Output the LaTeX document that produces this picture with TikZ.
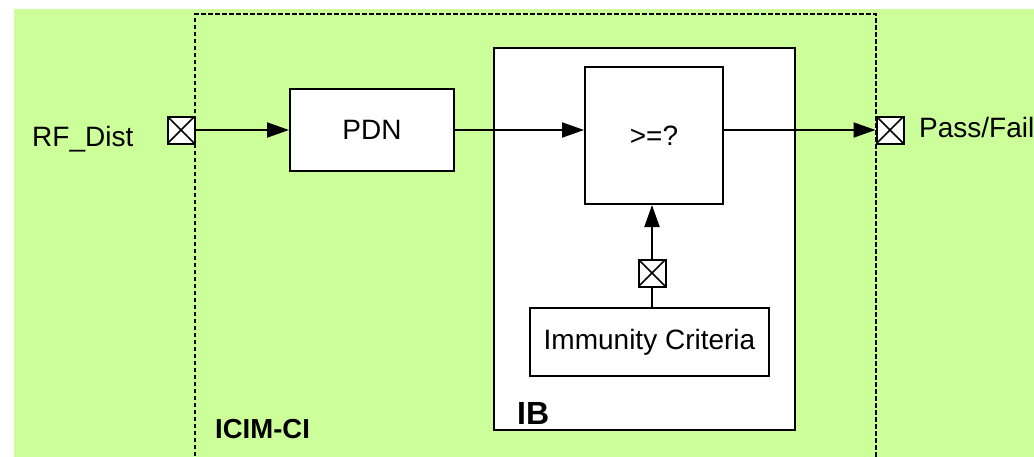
\documentclass[tikz,border=0pt]{standalone}
\usepackage{fontspec}
\setmainfont{Liberation Sans}
\usetikzlibrary{arrows.meta}
\definecolor{bggreen}{HTML}{CCFF99}
\tikzset{
  blk/.style={draw, fill=white, line width=2pt, inner sep=0pt,
    font=\fontsize{28}{32}\selectfont},
  port/.style={draw, fill=white, line width=2pt, minimum size=27pt, inner sep=0pt,
    path picture={\draw[line width=1.6pt]
      (path picture bounding box.north west) -- (path picture bounding box.south east)
      (path picture bounding box.south west) -- (path picture bounding box.north east);}},
  flow/.style={line width=2pt, -{Triangle[length=22pt,width=15pt]}},
  wire/.style={line width=2pt},
  lbl/.style={inner sep=0pt, font=\fontsize{28}{32}\selectfont},
  boldlbl/.style={inner sep=0pt, font=\bfseries\fontsize{#1}{#1}\selectfont},
  frame/.style={line width=2pt, dash pattern=on 4.5pt off 2.5pt},
}
\begin{document}
\begin{tikzpicture}[x=1pt, y=-1pt]
  \useasboundingbox (0,0) rectangle (1034,456);
  % background panel
  \fill[bggreen] (14,9) rectangle (1040,470);
  % ICIM-CI boundary (open at the bottom)
  \draw[frame] (195,470) -- (195,14) -- (876,14) -- (876,470);
  \node[boldlbl=27.5, anchor=base west] (icim) at (215,438) {ICIM-CI};

  % IB block and its contents
  \node[blk, minimum width=301pt, minimum height=382pt] (ib) at (644.5,239) {};
  \node[boldlbl=32, anchor=base west] (iblbl) at (517,424) {IB};
  \node[blk, minimum width=138pt, minimum height=137pt] (ge) at (654,135.5) {>=?};
  \node[blk, minimum width=239pt, minimum height=68pt] (ic) at (649.5,342) {Immunity Criteria};
  \node[port] (icp) at (652,273) {};

  % PDN block
  \node[blk, minimum width=164pt, minimum height=82pt] (pdn) at (372,130) {PDN};

  % external ports
  \node[port] (rf) at (181,130) {};
  \node[port] (pf) at (890,130) {};
  \node[lbl, anchor=base west] (rflbl) at (32,146) {RF\_Dist};
  \node[lbl, anchor=base west] (pflbl) at (919,137) {Pass/Fail};

  % signal flow
  \draw[flow] (rf.east) -- (pdn.west);
  \draw[flow] (pdn.east) -- (pdn.east -| ge.west);
  \draw[flow] (pf.west -| ge.east) -- (pf.west);
  \draw[wire] (ic.north -| icp.south) -- (icp.south);
  \draw[flow] (icp.north) -- (icp.north |- ge.south);
\end{tikzpicture}
\end{document}
